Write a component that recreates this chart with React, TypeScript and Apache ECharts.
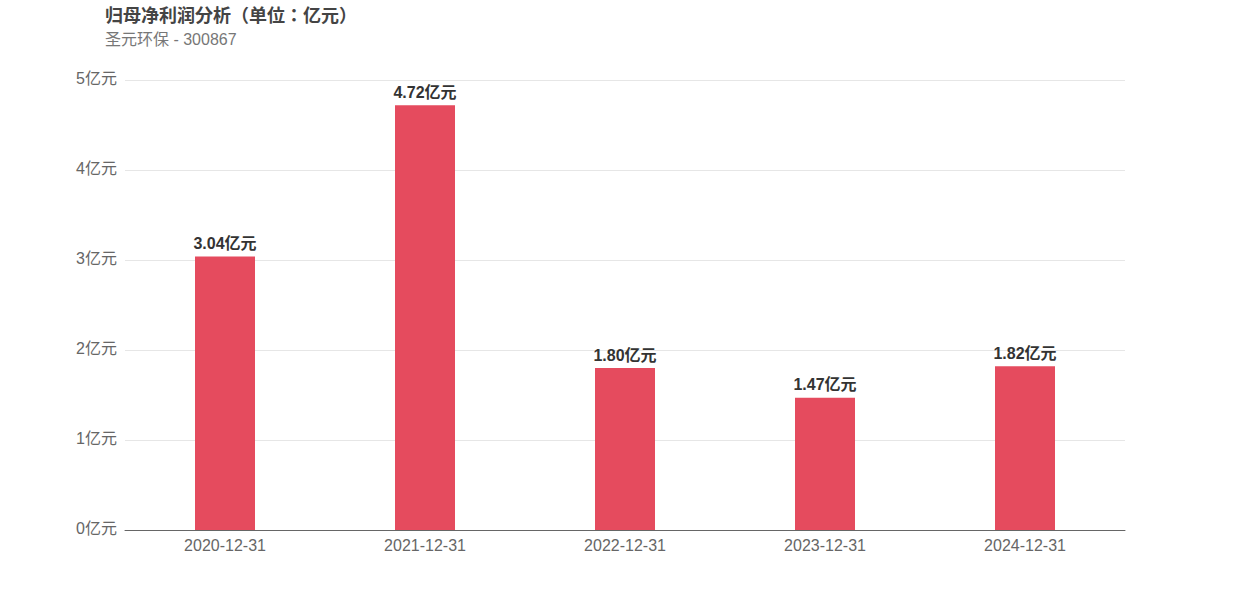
import React, { useEffect, useRef } from "react";
import * as echarts from "echarts";

const categories = ["2020-12-31", "2021-12-31", "2022-12-31", "2023-12-31", "2024-12-31"];
const profits = [3.04, 4.72, 1.8, 1.47, 1.82];
const titleText = "归母净利润分析（单位：亿元）";
const subtitleText = "圣元环保 - 300867";
const FONT = "'Liberation Sans', Arial, 'Noto Sans CJK SC', sans-serif";
const TITLE_FONT = "'Liberation Sans', Arial, 'Noto Sans CJK JP', sans-serif";

export default function App() {
  const ref = useRef<HTMLDivElement>(null);
  useEffect(() => {
    const chart = echarts.init(ref.current!, null, { renderer: "svg" });
    chart.setOption({
      animation: false,
      title: {
        text: titleText,
        subtext: subtitleText,
        left: 100,
        top: 2,
        itemGap: 7,
        textStyle: { fontSize: 18, fontWeight: "bold", color: "#444", fontFamily: TITLE_FONT },
        subtextStyle: { fontSize: 16, color: "#777", fontFamily: FONT },
      },
      grid: { left: 125, right: 125, top: 80, bottom: 70, containLabel: false },
      xAxis: {
        type: "category",
        data: categories,
        axisTick: { show: false },
        axisLine: { lineStyle: { color: "#666" } },
        axisLabel: { color: "#666", fontSize: 16, margin: 7, fontFamily: FONT },
      },
      yAxis: {
        type: "value",
        min: 0,
        max: 5,
        interval: 1,
        axisLabel: {
          formatter: (v: number) => "{a|" + v + "亿元}",
          color: "#666",
          fontSize: 16,
          margin: 8,
          fontFamily: FONT,
          rich: {
            a: { color: "#666", fontSize: 16, fontFamily: FONT, padding: [0, 0, 4, 0] },
          },
        },
        splitLine: { lineStyle: { color: "#e6e6e6" } },
      },
      series: [
        {
          type: "bar",
          data: profits,
          barWidth: "30%",
          itemStyle: { color: "#e54b5e" },
          label: {
            show: true,
            position: "top",
            formatter: (p: any) => p.value.toFixed(2) + "亿元",
            fontSize: 16,
            fontWeight: "bold",
            color: "#333",
            fontFamily: FONT,
          },
        },
      ],
    });
    return () => chart.dispose();
  }, []);
  return <div ref={ref} style={{ width: 1250, height: 600, position: "absolute", left: 0, top: 0 }} />;
}
